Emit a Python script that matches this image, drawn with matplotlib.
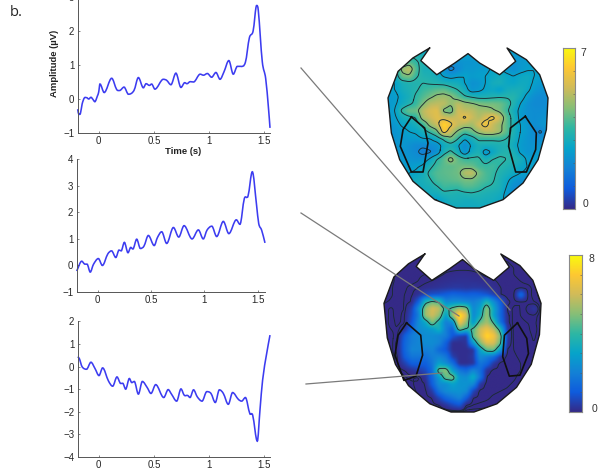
import numpy as np
import matplotlib
matplotlib.use('Agg')
import matplotlib.pyplot as plt
from matplotlib.colors import LinearSegmentedColormap
from matplotlib.patches import PathPatch
from matplotlib.path import Path
from matplotlib.lines import Line2D

W, H = 599, 469
plt.rcParams['font.family'] = ['Liberation Sans', 'DejaVu Sans']

# traces
t_top = [-0.19, -0.18, -0.165, -0.15, -0.13, -0.11, -0.09, -0.07, -0.05, -0.035, -0.01, 0.0, 0.012, 0.05, 0.118, 0.163, 0.19, 0.23, 0.27, 0.32, 0.36, 0.405, 0.43, 0.46, 0.48, 0.51, 0.586, 0.616, 0.655, 0.70, 0.746, 0.78, 0.80, 0.83, 0.86, 0.92, 0.95, 0.985, 1.024, 1.063, 1.10, 1.136, 1.18, 1.22, 1.257, 1.287, 1.33, 1.366, 1.40, 1.432, 1.447, 1.483, 1.514, 1.54, 1.553]
v_top = [-0.3, -0.45, -0.42, -0.15, 0.03, 0.04, 0.0, 0.05, -0.02, -0.08, 0.1, 0.2, 0.44, 0.19, 0.61, 0.28, 0.25, 0.35, 0.14, 0.25, 0.63, 0.33, 0.45, 0.40, 0.44, 0.29, 0.58, 0.55, 0.42, 0.76, 0.34, 0.48, 0.45, 0.51, 0.5, 0.73, 0.70, 0.75, 0.64, 0.78, 0.58, 0.8, 1.13, 0.73, 0.96, 0.96, 1.08, 1.8, 2.0, 2.75, 2.6, 1.1, 0.6, -0.3, -0.85]

t_mid = [-0.197, -0.15, -0.12, -0.10, -0.07, -0.04, 0.006, 0.044, 0.094, 0.13, 0.17, 0.2, 0.22, 0.25, 0.284, 0.31, 0.33, 0.366, 0.40, 0.434, 0.475, 0.53, 0.56, 0.60, 0.647, 0.71, 0.76, 0.81, 0.885, 0.944, 0.99, 1.025, 1.07, 1.116, 1.178, 1.23, 1.30, 1.334, 1.375, 1.41, 1.45, 1.49, 1.51, 1.5375, 1.569]
v_mid = [-0.21, 0.16, 0.05, 0.05, -0.25, 0.04, 0.26, 0.0, 0.43, 0.55, 0.3, 0.58, 0.55, 0.87, 0.48, 0.68, 0.62, 0.99, 0.64, 0.73, 1.13, 0.75, 1.05, 1.27, 0.83, 1.43, 1.07, 1.5, 1.0, 1.34, 1.0, 1.33, 1.48, 1.09, 1.66, 1.2, 1.72, 1.55, 2.52, 2.62, 3.53, 2.27, 1.58, 1.33, 0.85]

t_bot = [-0.19, -0.175, -0.15, -0.11, -0.07, -0.033, 0.003, 0.036, 0.088, 0.127, 0.166, 0.2, 0.218, 0.245, 0.278, 0.30, 0.323, 0.36, 0.396, 0.44, 0.474, 0.517, 0.59, 0.63, 0.66, 0.707, 0.746, 0.776, 0.807, 0.828, 0.86, 0.894, 0.937, 0.98, 1.018, 1.057, 1.094, 1.13, 1.175, 1.214, 1.266, 1.296, 1.33, 1.37, 1.396, 1.438, 1.462, 1.486, 1.523, 1.553]
v_bot = [0.43, 0.35, -0.01, -0.12, 0.19, -0.09, -0.4, -0.06, -0.63, -0.87, -0.46, -0.75, -0.74, -1.0, -0.53, -0.71, -0.66, -1.22, -0.66, -0.93, -1.19, -0.8, -1.37, -1.02, -1.22, -1.53, -0.99, -1.27, -1.28, -1.37, -1.03, -1.34, -1.53, -1.11, -1.19, -1.59, -1.03, -1.19, -1.67, -1.15, -1.45, -1.53, -1.37, -2.08, -2.15, -3.3, -1.93, -0.6, 0.58, 1.39]

xticks = [0, 0.5, 1, 1.5]
xticklabels = ['0', '0.5', '1', '1.5']

# scalp maps, 24 x 24 grid, first row is the top
map_top = np.array([
    [2.6] * 24,
    [2.7, 2.8, 3.0, 3.2, 3.2, 3.0, 2.8, 2.6, 2.5, 2.4, 2.4, 2.4, 2.4, 2.4, 2.4, 2.4, 2.4, 2.3, 2.2, 2.2, 2.2, 2.2, 2.2, 2.2],
    [2.6, 2.8, 3.4, 3.9, 3.5, 3.2, 3.0, 2.9, 2.4, 2.0, 2.0, 2.1, 2.1, 2.2, 2.3, 2.4, 2.4, 2.0, 2.0, 2.2, 2.3, 2.3, 2.3, 2.3],
    [2.6, 2.8, 4.8, 5.3, 3.8, 3.0, 3.0, 2.6, 2.0, 1.5, 1.8, 2.2, 2.2, 2.3, 2.3, 2.6, 2.6, 2.2, 1.9, 2.2, 2.4, 2.5, 2.4, 2.3],
    [2.6, 2.8, 4.2, 4.4, 3.5, 3.2, 3.1, 2.9, 2.4, 2.2, 2.4, 2.5, 2.3, 2.4, 2.5, 2.7, 2.9, 2.7, 2.5, 2.7, 2.8, 2.5, 2.4, 2.3],
    [2.4, 2.5, 3.0, 3.2, 3.2, 3.4, 3.3, 3.2, 3.1, 3.0, 2.9, 2.5, 2.0, 2.1, 2.5, 2.9, 3.0, 2.7, 2.6, 2.8, 2.8, 2.4, 2.2, 2.2],
    [2.4, 2.5, 2.9, 3.1, 3.3, 3.6, 3.8, 4.0, 4.1, 3.7, 3.4, 2.9, 2.1, 2.3, 2.6, 2.7, 2.4, 2.9, 3.0, 3.0, 2.7, 2.2, 2.0, 2.0],
    [2.2, 2.3, 2.7, 3.0, 3.5, 3.9, 4.3, 4.7, 4.8, 4.6, 4.0, 3.5, 3.3, 3.1, 3.1, 3.2, 3.3, 3.3, 3.3, 2.9, 2.3, 1.9, 1.8, 1.9],
    [2.2, 2.4, 2.8, 3.2, 3.6, 4.4, 5.1, 5.2, 5.2, 4.6, 5.2, 4.8, 4.6, 4.4, 4.3, 4.3, 4.2, 3.8, 3.2, 2.5, 2.0, 1.8, 1.8, 1.9],
    [2.2, 2.5, 3.6, 4.2, 4.2, 5.2, 5.6, 5.8, 4.3, 4.0, 5.5, 5.2, 5.2, 4.8, 4.8, 4.6, 4.3, 3.6, 2.9, 2.3, 2.0, 1.9, 1.9, 2.0],
    [2.2, 2.4, 2.9, 3.2, 3.4, 5.0, 5.4, 5.8, 5.4, 5.3, 5.4, 6.0, 5.4, 5.0, 5.6, 6.1, 5.4, 4.0, 3.1, 2.3, 2.0, 1.9, 2.0, 2.1],
    [2.1, 2.2, 2.6, 2.7, 3.0, 3.6, 4.8, 5.4, 6.8, 6.0, 5.3, 5.0, 4.8, 5.6, 6.2, 5.3, 4.8, 4.0, 3.1, 2.5, 2.2, 1.9, 2.1, 2.2],
    [2.0, 2.1, 2.3, 2.5, 2.6, 3.0, 3.6, 4.2, 6.4, 5.2, 4.4, 3.8, 4.2, 4.8, 5.2, 5.2, 4.8, 4.0, 3.1, 2.5, 2.2, 1.8, 1.6, 2.2],
    [1.9, 2.1, 2.2, 2.3, 2.3, 2.5, 2.5, 3.0, 3.6, 4.4, 3.5, 2.6, 3.0, 3.6, 3.6, 3.6, 3.6, 3.4, 3.0, 2.4, 2.1, 1.9, 1.9, 2.2],
    [2.0, 2.1, 2.2, 2.0, 1.8, 1.8, 1.9, 2.0, 2.8, 3.0, 2.6, 1.8, 2.6, 3.0, 3.0, 3.0, 3.1, 3.2, 2.8, 2.3, 2.1, 2.1, 2.1, 2.4],
    [2.0, 2.1, 2.1, 2.0, 1.8, 1.5, 1.6, 2.0, 3.1, 3.6, 2.9, 2.0, 2.8, 3.1, 2.1, 2.6, 3.1, 3.3, 3.1, 2.4, 2.1, 2.2, 2.4, 2.5],
    [2.2, 2.2, 2.2, 2.1, 2.0, 2.1, 2.6, 3.4, 4.0, 4.9, 4.0, 3.6, 3.6, 3.6, 3.0, 3.4, 3.6, 3.4, 3.2, 3.0, 2.4, 2.3, 2.6, 2.6],
    [2.4, 2.3, 2.3, 2.3, 2.4, 2.6, 3.2, 3.7, 4.0, 4.0, 4.2, 4.2, 4.1, 3.7, 3.6, 3.7, 3.4, 3.2, 3.0, 2.7, 2.5, 2.4, 2.6, 2.6],
    [2.6, 2.5, 2.4, 2.5, 2.6, 2.9, 3.6, 3.9, 4.0, 4.1, 4.2, 5.1, 5.3, 4.3, 3.8, 3.6, 3.2, 3.0, 2.8, 2.5, 2.4, 2.4, 2.5, 2.6],
    [2.7, 2.7, 2.5, 2.6, 2.9, 3.0, 3.3, 3.8, 3.9, 4.0, 4.1, 4.3, 4.3, 4.0, 3.8, 3.5, 3.1, 2.7, 2.2, 2.0, 2.1, 2.2, 2.3, 2.5],
    [2.7, 2.7, 2.7, 2.8, 2.8, 2.9, 3.0, 3.3, 3.7, 3.6, 3.6, 3.9, 3.9, 3.7, 3.4, 3.3, 3.1, 2.5, 1.9, 1.8, 1.9, 2.0, 2.2, 2.4],
    [2.7, 2.7, 2.7, 2.8, 2.8, 2.8, 2.9, 2.9, 3.2, 3.2, 3.1, 3.2, 3.3, 3.2, 3.1, 3.0, 2.9, 2.3, 1.8, 1.7, 1.8, 1.9, 2.1, 2.3],
    [2.8, 2.8, 2.8, 2.8, 2.8, 2.8, 2.4, 2.4, 2.7, 3.0, 3.0, 2.9, 2.9, 3.0, 2.9, 2.9, 2.7, 2.3, 1.9, 1.7, 1.8, 2.0, 2.2, 2.3],
    [2.8] * 24,
])
map_bot = np.array([
    [0.12] * 24,
    [.12, .14, .16, .18, .2, .22, .24, .24, .22, .2, .2, .24, .26, .24, .2, .2, .22, .24, .24, .22, .2, .18, .16, .14],
    [.14, .16, .18, .2, .22, .2, .2, .22, .26, .3, .3, .3, .3, .3, .28, .26, .24, .24, .26, .24, .22, .2, .18, .14],
    [.14, .16, .18, .2, .2, .22, .24, .24, .3, .34, .36, .38, .38, .36, .34, .3, .28, .26, .26, .24, .22, .2, .18, .14],
    [.14, .16, .18, .22, .2, .24, .3, .34, .38, .42, .44, .46, .46, .44, .42, .4, .36, .3, .28, .26, .24, .2, .18, .14],
    [.14, .16, .2, .22, .28, .34, .4, .44, .5, .55, .6, .6, .55, .6, .6, .5, .42, .34, .28, .26, .3, .3, .2, .14],
    [.14, .16, .2, .24, .3, .5, .9, 1.1, 1.2, 1.4, 1.6, 1.5, 1.4, 1.5, 1.4, 1.2, .8, .34, .26, .24, 1.8, .3, .2, .14],
    [.16, .18, .22, .24, .34, 1.4, 4.0, 4.8, 4.4, 2.4, 2.6, 2.6, 2.4, 2.2, 2.6, 4.0, 2.6, 1.4, .4, .26, .24, .3, .24, .16],
    [.2, .26, .2, .24, .8, 2.6, 5.4, 6.4, 6.0, 4.0, 4.8, 5.6, 5.2, 2.4, 3.2, 5.4, 3.4, 1.6, .3, .22, .24, .36, .6, .16],
    [.16, .28, .18, .3, 1.0, 2.2, 5.6, 6.2, 5.4, 3.0, 5.6, 8.0, 6.4, 2.4, 3.6, 5.6, 3.2, 1.6, .4, .2, .24, .3, .3, .16],
    [.14, .3, .2, .3, 1.2, 2.6, 3.4, 5.2, 3.8, 2.2, 2.6, 7.0, 5.4, 2.8, 4.8, 5.6, 4.4, 1.8, .4, .2, .2, .24, .26, .18],
    [.14, .24, .26, .6, 1.6, 2.6, 2.8, 3.0, 3.8, 2.2, 1.4, 5.0, 4.2, 4.6, 6.2, 6.8, 6.0, 4.0, .6, .2, .18, .22, .28, .18],
    [.14, .2, .3, 1.4, 2.2, 2.4, 2.6, 2.6, 2.4, 2.2, 1.2, .8, .6, 4.8, 6.2, 7.6, 7.0, 5.2, .6, .2, .18, .2, .26, .16],
    [.14, .18, .4, 1.6, 2.2, 2.4, 2.6, 2.6, 2.4, 1.4, .4, .4, .5, 3.0, 5.2, 6.6, 6.4, 4.8, .5, .22, .18, .2, .24, .14],
    [.14, .18, .4, 1.6, 2.4, 2.4, 2.2, 2.4, 1.6, 1.2, .4, .4, .4, .5, 3.2, 4.8, 5.0, 3.0, .3, .24, .2, .2, .2, .14],
    [.14, .16, .3, 1.4, 2.0, 2.0, 1.8, 2.2, 2.4, 2.0, .7, .4, .4, .6, 2.6, 2.2, 1.8, .6, .25, .26, .22, .2, .18, .14],
    [.12, .16, .3, .8, 1.4, 1.4, 1.4, 2.0, 3.2, 2.6, 1.8, .4, .4, .5, 2.0, 1.6, .6, .25, .28, .3, .24, .2, .16, .12],
    [.12, .14, .2, .3, .5, .7, 1.0, 1.7, 5.0, 5.4, 3.0, 2.0, 1.6, 2.4, 1.8, .5, .25, .3, .32, .28, .24, .18, .14, .12],
    [.12, .12, .16, .22, .26, .2, .5, 1.6, 3.0, 5.0, 5.2, 2.8, 2.6, 3.6, 2.0, .3, .24, .3, .3, .26, .2, .16, .14, .12],
    [.12, .12, .14, .18, .22, .28, .3, 1.4, 2.6, 2.6, 3.2, 2.8, 2.8, 2.6, .6, .25, .28, .28, .26, .22, .18, .14, .12, .12],
    [.12, .12, .12, .16, .2, .26, .25, .7, 2.0, 2.6, 2.8, 2.8, 2.6, .9, .25, .28, .26, .24, .22, .18, .16, .14, .12, .12],
    [.12, .12, .12, .14, .16, .22, .26, .3, .9, 1.6, 2.0, 2.4, 1.4, .3, .28, .26, .22, .2, .18, .16, .14, .12, .12, .12],
    [.12, .12, .12, .12, .14, .16, .2, .24, .3, .6, 1.0, 1.3, .3, .24, .22, .2, .18, .16, .14, .12, .12, .12, .12, .12],
    [0.12] * 24,
])

parula_colors = ['#352a87', '#0f5cdd', '#1481d6', '#06a4ca', '#2eb7a4', '#87bf77', '#d1bb59', '#fec832', '#f9fb0e']
parula = LinearSegmentedColormap.from_list('parula', parula_colors)

# outline and the two marked regions, fractions of the map box
head_x = [0.26, 0.205, 0.305, 0.417, 0.5, 0.573, 0.698, 0.798, 0.744, 0.865, 0.948, 1.0, 0.99, 0.938, 0.844, 0.719, 0.573, 0.427, 0.292, 0.156, 0.073, 0.021, 0.0, 0.063, 0.156]
head_y = [1.0, 0.921, 0.833, 0.906, 0.965, 0.906, 0.833, 0.917, 1.0, 0.927, 0.833, 0.688, 0.49, 0.302, 0.156, 0.052, 0.0, 0.0, 0.052, 0.167, 0.302, 0.469, 0.688, 0.854, 0.938]
left_top = ([0.146, 0.229, 0.25, 0.219, 0.146, 0.077, 0.094], [0.569, 0.5, 0.406, 0.225, 0.225, 0.385, 0.49])
right_top = ([0.858, 0.927, 0.923, 0.865, 0.798, 0.754, 0.765], [0.573, 0.469, 0.365, 0.225, 0.225, 0.385, 0.5])
left_bot = ([0.144, 0.234, 0.246, 0.204, 0.127, 0.07, 0.09], [0.564, 0.486, 0.36, 0.227, 0.2, 0.36, 0.486])
right_bot = ([0.85, 0.909, 0.92, 0.866, 0.798, 0.756, 0.767], [0.564, 0.466, 0.37, 0.233, 0.227, 0.35, 0.486])


def px_axes(left, top, right, bottom):
    return fig.add_axes([left / W, 1 - bottom / H, (right - left) / W, (bottom - top) / H])


def curve_path(t, v):
    # bezier through the read values, flat at each peak and dip
    t = np.array(t)
    v = np.array(v)
    slope = np.zeros(len(t))
    d = np.diff(v) / np.diff(t)
    for i in range(1, len(t) - 1):
        if d[i - 1] * d[i] > 0:
            slope[i] = (v[i + 1] - v[i - 1]) / (t[i + 1] - t[i - 1])
    slope[0] = d[0]
    slope[-1] = d[-1]
    verts = [(t[0], v[0])]
    codes = [Path.MOVETO]
    for i in range(len(t) - 1):
        h = (t[i + 1] - t[i]) / 3
        verts += [(t[i] + h, v[i] + h * slope[i]), (t[i + 1] - h, v[i + 1] - h * slope[i + 1]), (t[i + 1], v[i + 1])]
        codes += [Path.CURVE4] * 3
    return Path(verts, codes)


def draw_trace(box, xlim, ylim, t, v, yticks):
    ax = px_axes(*box)
    ax.add_patch(PathPatch(curve_path(t, v), fc='none', ec='#3c3cf0', lw=1.15, clip_on=False))
    ax.set_xlim(*xlim)
    ax.set_ylim(*ylim)
    ax.set_xticks(xticks)
    ax.set_xticklabels(xticklabels)
    ax.set_yticks(yticks)
    ax.spines['top'].set_visible(False)
    ax.spines['right'].set_visible(False)
    for s in ['left', 'bottom']:
        ax.spines[s].set_color('#555555')
        ax.spines[s].set_linewidth(0.7)
    ax.tick_params(direction='in', length=1.5, width=0.5, color='#555555', labelsize=7,
                   labelcolor='#262626', pad=2.5)
    return ax


def smooth(z):
    # finer grid for the colour field and the contour lines
    n = 6
    src = np.arange(z.shape[0])
    dst = np.linspace(0, z.shape[0] - 1, (z.shape[0] - 1) * n + 1)
    fine = np.array([np.interp(dst, src, row) for row in z])
    fine = np.array([np.interp(dst, src, col) for col in fine.T]).T
    k = np.ones(3) / 3
    for axis in [0, 1]:
        fine = np.apply_along_axis(lambda a: np.convolve(np.pad(a, 3, mode='edge'), k, mode='same')[3:-3], axis, fine)
    return fine


def draw_map(box, z, vmin, vmax, levels, left_roi, right_roi):
    ax = px_axes(*box)
    ax.set_xlim(-0.01, 1.01)
    ax.set_ylim(-0.01, 1.01)
    ax.axis('off')
    fine = smooth(z)
    xs = np.linspace(0, 1, fine.shape[1])
    ys = np.linspace(1, 0, fine.shape[0])
    im = ax.imshow(fine, extent=(0, 1, 0, 1), cmap=parula, vmin=vmin, vmax=vmax, aspect='auto',
                   interpolation='bicubic')
    clip = PathPatch(Path(np.column_stack([head_x + head_x[:1], head_y + head_y[:1]])),
                     transform=ax.transData, fc='none', ec='none')
    ax.add_patch(clip)
    im.set_clip_path(clip)
    cs = ax.contour(xs, ys, fine, levels=levels, colors='#1c2b33', linewidths=0.65)
    cs.set_clip_path(clip)
    ax.plot(head_x + head_x[:1], head_y + head_y[:1], color='#1a1a1a', lw=1.0)
    for roi in [left_roi, right_roi]:
        ax.plot(roi[0] + roi[0][:1], roi[1] + roi[1][:1], color='#101010', lw=1.2)
    return ax


def draw_cbar(box, vmax, top_label, top_xy, bot_xy):
    ax = px_axes(*box)
    ax.imshow(np.linspace(1, 0, 256)[:, None], cmap=parula, aspect='auto', extent=(0, 1, 0, vmax))
    ax.set_xticks([])
    ax.set_yticks(range(1, vmax))
    ax.yaxis.tick_right()
    ax.tick_params(axis='y', direction='in', length=1.5, width=0.4, color='#555555', labelright=False)
    for s in ax.spines.values():
        s.set_color('#8a8a8a')
        s.set_linewidth(0.8)
    fig.text(top_xy[0] / W, 1 - top_xy[1] / H, top_label, fontsize=7.5, color='#333333', ha='center', va='center')
    fig.text(bot_xy[0] / W, 1 - bot_xy[1] / H, '0', fontsize=7.5, color='#333333', ha='center', va='center')


fig = plt.figure(figsize=(W / 100, H / 100), dpi=100)

ax1 = draw_trace((77.7, -3, 270, 133), (-0.19, 1.553), (-1, 3), t_top, v_top, [-1, 0, 1, 2, 3])
ax1.set_ylabel('Amplitude (\u00b5V)', fontsize=6.8, fontweight='bold', color='#222222')
ax1.yaxis.set_label_coords(-0.098, 0.51)
ax1.set_xlabel('Time (s)', fontsize=6.8, fontweight='bold', color='#222222')
ax1.xaxis.set_label_coords(0.547, -0.105)
draw_trace((76.7, 159.3, 265, 292), (-0.197, 1.569), (-1, 4), t_mid, v_mid, [-1, 0, 1, 2, 3, 4])
draw_trace((77.7, 321.3, 270, 457), (-0.19, 1.553), (-4, 2), t_bot, v_bot, [-4, -3, -2, -1, 0, 1, 2])

draw_map((386.4, 46.4, 549.6, 209.6), map_top, -0.4, 7.4, [1.7, 2.5, 3.4, 4.5, 5.8], left_top, right_top)
draw_map((382.4, 252.4, 542.6, 413.6), map_bot, 0.3, 8.2, [0.17, 0.24, 0.33, 4.4], left_bot, right_bot)

draw_cbar((563, 48, 574.5, 209), 7, '7', (583, 52.7), (585.7, 204))
draw_cbar((568.5, 255, 582, 412), 8, '8', (591.7, 259), (594, 409))

# lines joining the traces to the maps
for xp, yp in [((301, 510), (68, 310)), ((301, 459), (213, 316)), ((306, 442), (384, 373))]:
    fig.add_artist(Line2D([x / W for x in xp], [1 - y / H for y in yp], color='#7a7a7a', lw=0.9))

fig.text(10 / W, 1 - 12 / H, 'b.', fontsize=10.5, family='Open Sans', color='#222222', ha='left', va='center')

fig.savefig('out.png', dpi=100)
